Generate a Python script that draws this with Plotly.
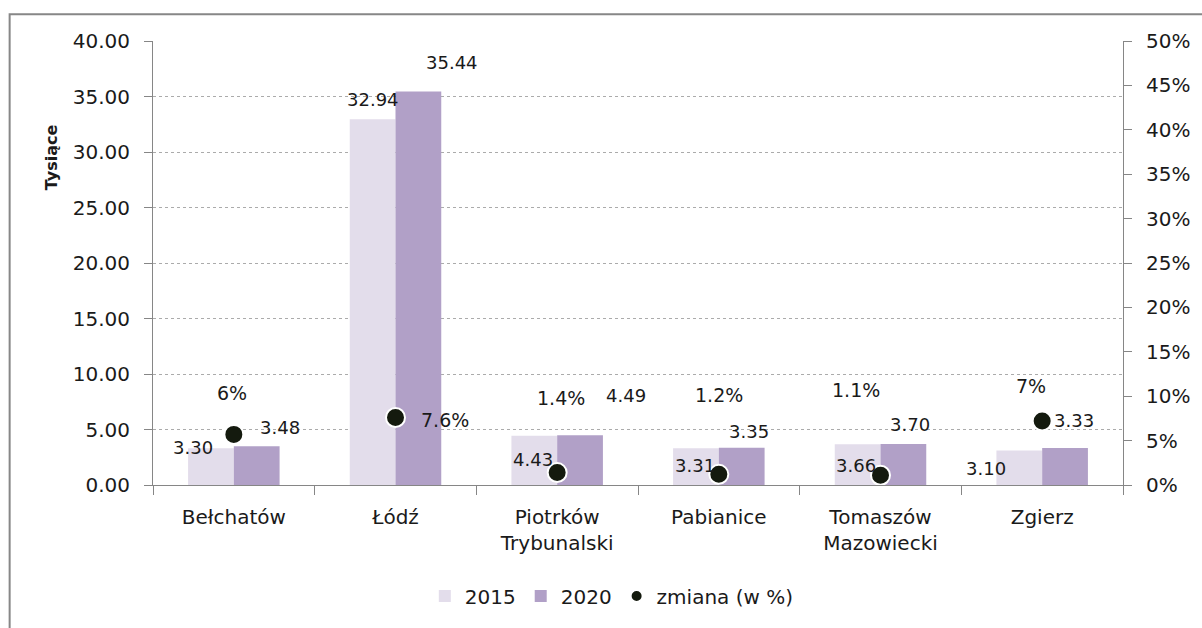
import plotly.graph_objects as go

categories = ["Bełchatów", "Łódź", "Piotrków<br>Trybunalski", "Pabianice", "Tomaszów<br>Mazowiecki", "Zgierz"]
values_2015 = [3.30, 32.94, 4.43, 3.31, 3.66, 3.10]
values_2020 = [3.48, 35.44, 4.49, 3.35, 3.70, 3.33]
change_pct = [0.057, 0.076, 0.014, 0.012, 0.011, 0.072]
change_labels = ["6%", "7.6%", "1.4%", "1.2%", "1.1%", "7%"]
left_ticks = [0, 5, 10, 15, 20, 25, 30, 35, 40]
right_ticks = [0, 0.05, 0.10, 0.15, 0.20, 0.25, 0.30, 0.35, 0.40, 0.45, 0.50]

# label pixel offsets (manual Excel label placement)
lbl15_shift = [(-41, 1), (-23, 20), (-24, -24), (-24, -17), (-25, -21), (-56, -18)]
lbl20_shift = [(46, 19), (56, 29), (69, 40), (30, 16), (29, 19), (32, 28)]
pct_shift = [(-2, 41), (49, -2), (4, 75), (0, 79), (-25, 85), (-11, 35)]

FONT = "DejaVu Sans"
TXT = "#1a1a1a"
c2015 = "#E3DDEB"
c2020 = "#B1A0C7"
cdot = "#141A0E"

fig = go.Figure()
fig.add_trace(go.Bar(x=categories, y=values_2015, name="2015", marker_color=c2015, marker_line_width=0))
fig.add_trace(go.Bar(x=categories, y=values_2020, name="2020", marker_color=c2020, marker_line_width=0))
fig.add_trace(go.Scatter(x=categories, y=change_pct, name="zmiana (w %)", yaxis="y2", mode="markers",
                         marker=dict(size=19, color=cdot, line=dict(color="white", width=2))))

ann = []
for i, c in enumerate(categories):
    ann.append(dict(x=c, y=values_2015[i], xref="x", yref="y", text=f"{values_2015[i]:.2f}", showarrow=False,
                    xshift=lbl15_shift[i][0], yshift=lbl15_shift[i][1], font=dict(size=18, color=TXT)))
    ann.append(dict(x=c, y=values_2020[i], xref="x", yref="y", text=f"{values_2020[i]:.2f}", showarrow=False,
                    xshift=lbl20_shift[i][0], yshift=lbl20_shift[i][1], font=dict(size=18, color=TXT)))
    ann.append(dict(x=c, y=change_pct[i], xref="x", yref="y2", text=change_labels[i], showarrow=False,
                    xshift=pct_shift[i][0], yshift=pct_shift[i][1], font=dict(size=19, color=TXT)))
ann.append(dict(x=-0.117, y=0.817, xref="paper", yref="paper", text="<b>Tysiące</b>", textangle=-90,
                showarrow=False, font=dict(size=16, color=TXT)))

fig.update_layout(
    width=1202, height=628,
    margin=dict(l=153, r=75, t=41, b=140),
    paper_bgcolor="white", plot_bgcolor="white",
    font=dict(family=FONT, size=20, color=TXT),
    barmode="group", bargap=0.434, bargroupgap=0,
    showlegend=True,
    legend=dict(orientation="h", x=0.473, xanchor="center", y=-0.25, yanchor="middle",
                font=dict(size=20), itemsizing="constant", traceorder="normal"),
    xaxis=dict(showline=True, linecolor="#868686", linewidth=1, ticks="outside", ticklen=9,
               tickcolor="#868686", tickson="boundaries", showgrid=False, tickfont=dict(size=20),
               ticklabelstandoff=14),
    yaxis=dict(range=[0, 40], tickvals=left_ticks, tickformat=".2f", showline=True, linecolor="#868686",
               linewidth=1, ticks="outside", ticklen=8, tickcolor="#868686", showgrid=True,
               gridcolor="#ABABAB", griddash="dot", gridwidth=1, zeroline=False, tickfont=dict(size=20),
               ticklabelstandoff=10),
    yaxis2=dict(range=[0, 0.5], tickvals=right_ticks, tickformat=".0%", overlaying="y", side="right",
                showline=True, linecolor="#868686", linewidth=1, ticks="outside", ticklen=8,
                tickcolor="#868686", showgrid=False, zeroline=False, tickfont=dict(size=20),
                ticklabelstandoff=10),
    annotations=ann,
    shapes=[dict(type="rect", xref="paper", yref="paper", x0=-0.1478, y0=-0.6, x1=1.3, y1=1.0604,
                 line=dict(color="#878787", width=2), layer="below")],
)

fig.write_html("out.html", config={"displayModeBar": False},
               post_script="document.body.style.margin='0';document.body.style.overflow='hidden';")
